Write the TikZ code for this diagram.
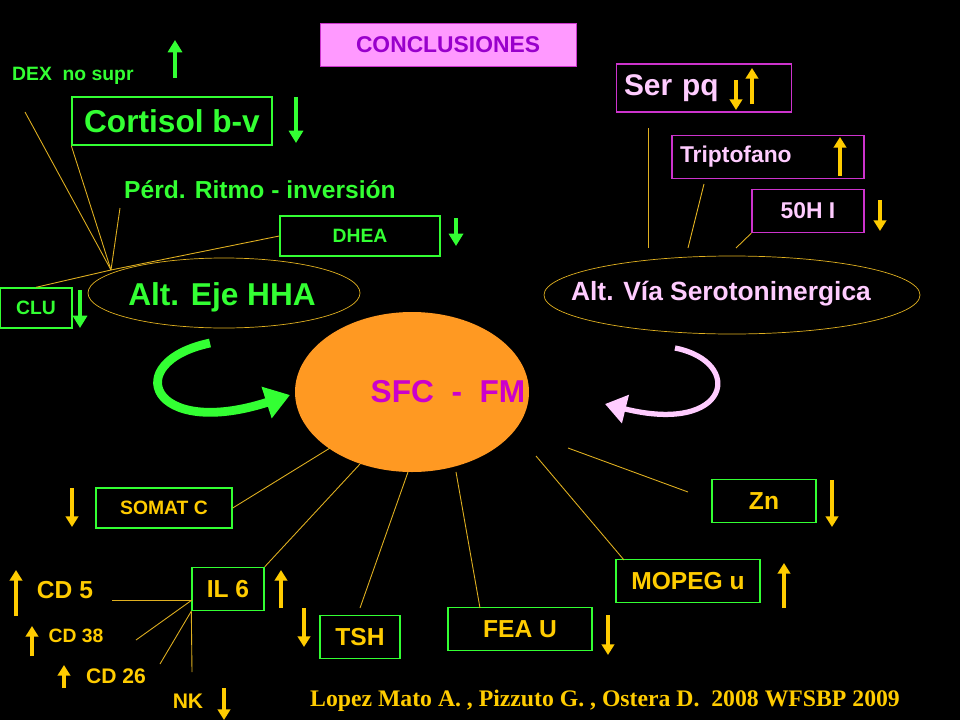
\documentclass[tikz,border=0pt]{standalone}
\usepackage{fontspec}
\setmainfont{Liberation Sans}
\newfontfamily\serifbold{Liberation Serif}
\usetikzlibrary{arrows.meta,shapes.geometric}
\definecolor{lgreen}{HTML}{33FF33}
\definecolor{gold}{HTML}{FFCC00}
\definecolor{lline}{HTML}{E0B020}
\definecolor{rosa}{HTML}{FFCCFF}
\definecolor{magborder}{HTML}{CC33CC}
\definecolor{concfill}{HTML}{FF99FF}
\definecolor{concText}{HTML}{9900CC}
\definecolor{sfcfill}{HTML}{FF9922}
\definecolor{sfctext}{HTML}{CC00CC}
\tikzset{
  gbox/.style={draw=lgreen,thick,inner sep=0pt,text=lgreen,font=\bfseries},
  ybox/.style={draw=lgreen,thick,inner sep=0pt,text=gold,font=\bfseries},
  pbox/.style={draw=magborder,thick,inner sep=0pt,text=rosa,font=\bfseries},
  link/.style={draw=lline,line width=0.5pt},
  garr/.style={draw=lgreen,line width=2.2pt,-{Triangle[length=7pt,width=8pt]}},
  yarr/.style={draw=gold,line width=1.8pt,-{Triangle[length=6pt,width=7pt]}},
}
\begin{document}
\begin{tikzpicture}[x=0.02cm,y=-0.02cm]
\fill[black] (0,0) rectangle (960,720);
\useasboundingbox (0,0) rectangle (960,720);
% title
\node[fill=concfill,draw=magborder,minimum width=256*0.02cm,minimum height=43*0.02cm,text=concText,font=\bfseries\fontsize{13}{15}\selectfont] (concl) at (448,45) {CONCLUSIONES};
% eje HHA
\node[text=lgreen,font=\bfseries\fontsize{11}{13}\selectfont,anchor=west] (dex) at (6,76) {DEX\ \ no supr};
\draw[garr] (175,78) -- (175,40);
\node[gbox,minimum width=200*0.02cm,minimum height=48*0.02cm,font=\bfseries\fontsize{18}{20}\selectfont] (cort) at (172,121) {Cortisol b-v};
\draw[garr] (296,97) -- (296,143);
\node[text=lgreen,font=\bfseries\fontsize{14}{16}\selectfont,anchor=west] (perd) at (118,190) {Pérd. Ritmo - inversión};
\node[gbox,minimum width=160*0.02cm,minimum height=40*0.02cm,font=\bfseries\fontsize{11}{13}\selectfont] (dhea) at (360,236) {DHEA};
\draw[garr] (456,218) -- (456,246);
\node[draw=lline,ellipse,minimum width=272*0.02cm,minimum height=70*0.02cm,inner sep=0pt] (hha) at (224,293) {};
\node[text=lgreen,font=\bfseries\fontsize{18}{20}\selectfont] (hhatext) at (222,297) {Alt. Eje HHA};
\node[gbox,minimum width=72*0.02cm,minimum height=40*0.02cm,font=\bfseries\fontsize{11}{13}\selectfont] (clu) at (36,308) {CLU};
\draw[garr] (80,290) -- (80,328);
\coordinate (hub) at (111,270);
\coordinate (dexend) at (25,112);
\coordinate (perdend) at (120,208);
\draw[link] (hub) -- (dexend);
\draw[link] (hub) -- (cort.south west);
\draw[link] (hub) -- (perdend);
\draw[link] (hub) -- (dhea.west);
\draw[link] (hub) -- (clu.north);
% via serotoninergica
\node[pbox,minimum width=175*0.02cm,minimum height=48*0.02cm,font=\bfseries\fontsize{17}{19}\selectfont,text width=160*0.02cm,align=left] (ser) at (704,88) {Ser pq};
\draw[yarr] (736,80) -- (736,110);
\draw[yarr] (752,104) -- (752,68);
\node[pbox,minimum width=192*0.02cm,minimum height=43*0.02cm,font=\bfseries\fontsize{13}{15}\selectfont,text width=176*0.02cm,align=left] (trip) at (768,157) {Triptofano};
\draw[yarr] (840,176) -- (840,137);
\node[pbox,minimum width=112*0.02cm,minimum height=43*0.02cm,font=\bfseries\fontsize{13}{15}\selectfont] (ohi) at (808,211) {50H I};
\draw[yarr] (880,200) -- (880,231);
\node[draw=lline,ellipse,minimum width=376*0.02cm,minimum height=78*0.02cm,inner sep=0pt] (sero) at (732,295) {};
\node[text=rosa,font=\bfseries\fontsize{15}{17}\selectfont] (serotext) at (721,294) {Alt. Vía Serotoninergica};
\coordinate (serend) at (648,128);
\coordinate (sertop) at (648,248);
\coordinate (tripend) at (704,184);
\coordinate (triptop) at (688,248);
\coordinate (ohitop) at (736,248);
\draw[link] (serend) -- (sertop);
\draw[link] (tripend) -- (triptop);
\draw[link] (ohi.south west) -- (ohitop);
% centro
\node[fill=sfcfill,ellipse,minimum width=234*0.02cm,minimum height=160*0.02cm,inner sep=0pt] (sfc) at (412,392) {};
\node[text=sfctext,font=\bfseries\fontsize{18}{20}\selectfont] (sfctext) at (448,392) {SFC\ \ -\ \ FM};
\draw[draw=lgreen,line width=5pt,-{Triangle[length=14pt,width=18pt]}] (210,343) .. controls (120,362) and (150,440) .. (290,395);
\draw[draw=rosa,line width=3pt,-{Triangle[length=12pt,width=16pt]}] (675,348) .. controls (745,362) and (730,435) .. (605,404);
% hacia abajo
\node[ybox,minimum width=136*0.02cm,minimum height=40*0.02cm,font=\bfseries\fontsize{11}{13}\selectfont] (somat) at (164,508) {SOMAT C};
\draw[yarr] (72,488) -- (72,527);
\node[ybox,minimum width=72*0.02cm,minimum height=43*0.02cm,font=\bfseries\fontsize{14}{16}\selectfont] (il) at (228,589) {IL 6};
\draw[yarr] (281,608) -- (281,570);
\node[text=gold,font=\bfseries\fontsize{14}{16}\selectfont] (cdfive) at (65,590) {CD 5};
\draw[yarr] (16,616) -- (16,570);
\node[text=gold,font=\bfseries\fontsize{11}{13}\selectfont] (cdtt) at (76,636) {CD 38};
\draw[yarr] (32,656) -- (32,626);
\node[text=gold,font=\bfseries\fontsize{12}{14}\selectfont] (cdts) at (116,676) {CD 26};
\draw[yarr] (64,688) -- (64,665);
\node[text=gold,font=\bfseries\fontsize{12}{14}\selectfont] (nk) at (188,701) {NK};
\draw[yarr] (224,688) -- (224,720);
\coordinate (cdfiveend) at (112,600);
\coordinate (cdttend) at (136,640);
\coordinate (cdtsend) at (160,664);
\coordinate (nkend) at (192,672);
\coordinate (ilw) at (192,600);
\draw[link] (cdfiveend) -- (ilw);
\draw[link] (cdttend) -- (ilw);
\draw[link] (cdtsend) -- (il.south west);
\draw[link] (il.south west) -- (nkend);
\node[ybox,minimum width=80*0.02cm,minimum height=43*0.02cm,font=\bfseries\fontsize{14}{16}\selectfont] (tsh) at (360,637) {TSH};
\draw[yarr] (304,608) -- (304,647);
\node[ybox,minimum width=144*0.02cm,minimum height=43*0.02cm,font=\bfseries\fontsize{14}{16}\selectfont] (fea) at (520,629) {FEA U};
\draw[yarr] (608,615) -- (608,655);
\node[ybox,minimum width=144*0.02cm,minimum height=43*0.02cm,font=\bfseries\fontsize{14}{16}\selectfont] (mopeg) at (688,581) {MOPEG u};
\draw[yarr] (784,608) -- (784,563);
\node[ybox,minimum width=104*0.02cm,minimum height=43*0.02cm,font=\bfseries\fontsize{14}{16}\selectfont] (zn) at (764,501) {Zn};
\draw[yarr] (832,480) -- (832,527);
\coordinate (sa) at (330,448);
\coordinate (sb) at (360,464);
\coordinate (sc) at (408,472);
\coordinate (sd) at (456,472);
\coordinate (se) at (536,456);
\coordinate (sf) at (568,448);
\coordinate (tshend) at (360,608);
\coordinate (feaend) at (480,608);
\coordinate (mopend) at (624,560);
\coordinate (znend) at (688,492);
\draw[link] (somat.east) -- (sa);
\draw[link] (il.north east) -- (sb);
\draw[link] (tshend) -- (sc);
\draw[link] (feaend) -- (sd);
\draw[link] (mopend) -- (se);
\draw[link] (znend) -- (sf);
% referencia
\node[text=gold,font=\serifbold\bfseries\fontsize{13.5}{16}\selectfont] (ref) at (605,701) {Lopez Mato A. , Pizzuto G. , Ostera D.\ \ 2008 WFSBP 2009};
\end{tikzpicture}
\end{document}
